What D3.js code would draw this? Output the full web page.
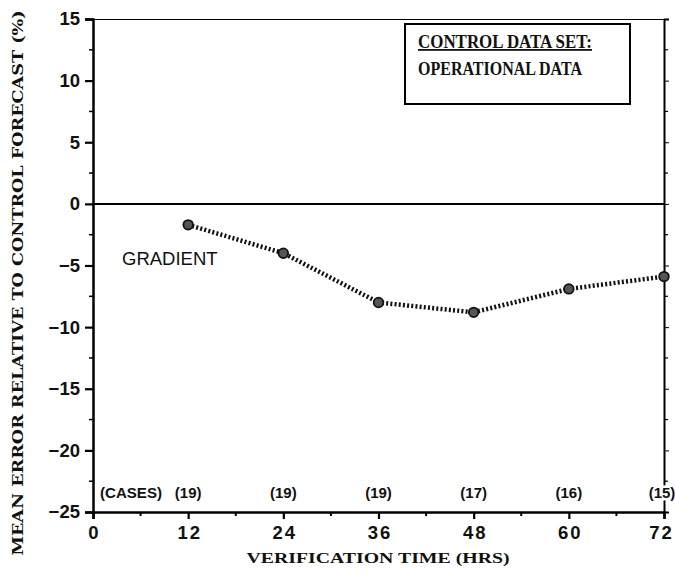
<!DOCTYPE html>
<html><head><meta charset="utf-8">
<script src="https://cdn.jsdelivr.net/npm/d3@7"></script>
<style>body{margin:0;background:#fff}svg{display:block}</style>
</head><body>
<svg id="c" width="675" height="574"></svg>
<script>
const hours = [12, 24, 36, 48, 60, 72];
const gradientError = [-1.7, -4.0, -8.0, -8.8, -6.9, -5.9];
const cases = ["(19)", "(19)", "(19)", "(17)", "(16)", "(15)"];
const xTicks = [0, 12, 24, 36, 48, 60, 72];
const yTicks = [15, 10, 5, 0, -5, -10, -15, -20, -25];

const svg = d3.select("#c");
const L = 93, R = 664, T = 19, B = 512;
const x = d3.scaleLinear().domain([0, 72]).range([L, R]);
const y = d3.scaleLinear().domain([-25, 15]).range([B, T]);
const sans = "'Liberation Sans', Arial, sans-serif";
const serif = "'Liberation Serif', 'Times New Roman', serif";

// bottom axis
const gx = svg.append("g").attr("transform", `translate(0,${B})`)
  .call(d3.axisBottom(x).tickValues(xTicks).tickSize(7).tickPadding(7).tickFormat(d3.format("d")));
gx.append("g").selectAll("line").data(d3.range(6, 72, 12)).join("line")
  .attr("x1", d => x(d)).attr("x2", d => x(d)).attr("y1", 0).attr("y2", 4)
  .attr("stroke", "#000").attr("stroke-width", 2);
// left axis
const gy = svg.append("g").attr("transform", `translate(${L},0)`)
  .call(d3.axisLeft(y).tickValues(yTicks).tickSize(8).tickPadding(5));
gy.append("g").selectAll("line").data(d3.range(-22.5, 15, 5)).join("line")
  .attr("y1", d => y(d)).attr("y2", d => y(d)).attr("x1", 0).attr("x2", -4)
  .attr("stroke", "#000").attr("stroke-width", 1.5);
// top axis
svg.append("g").attr("transform", `translate(0,${T})`)
  .call(d3.axisTop(x).tickValues([]).tickSizeOuter(0));
// right axis
const gr = svg.append("g").attr("transform", `translate(${R},0)`)
  .call(d3.axisRight(y).tickValues(yTicks).tickSize(5).tickFormat(""));
gr.append("g").selectAll("line").data(d3.range(-22.5, 15, 5)).join("line")
  .attr("y1", d => y(d)).attr("y2", d => y(d)).attr("x1", 0).attr("x2", 4)
  .attr("stroke", "#000").attr("stroke-width", 1.2);

[gx, gy].forEach(g => {
  g.select(".domain").attr("stroke-width", 2.5);
  g.selectAll(".tick line").attr("stroke-width", 2.2);
  g.selectAll(".tick text").attr("font-family", sans).attr("font-size", 18.5)
    .attr("font-weight", "bold").attr("fill", "#111");
});
gx.selectAll(".tick text").attr("letter-spacing", 2)
  .attr("x", d => d === 72 ? -3 : 1);
svg.selectAll(".domain").attr("stroke", "#000");
gr.select(".domain").attr("stroke-width", 2);

// zero line
svg.append("line").attr("x1", L).attr("x2", R).attr("y1", y(0)).attr("y2", y(0))
  .attr("stroke", "#000").attr("stroke-width", 2);

// line
const line = d3.line().x((d, i) => x(hours[i])).y(d => y(d));
svg.append("path").datum(gradientError).attr("d", line)
  .attr("fill", "none").attr("stroke", "#111").attr("stroke-width", 4.5)
  .attr("stroke-dasharray", "2,2.2");
svg.append("g").selectAll("circle").data(gradientError).join("circle")
  .attr("cx", (d, i) => x(hours[i])).attr("cy", d => y(d)).attr("r", 4.8)
  .attr("fill", "#555").attr("stroke", "#111").attr("stroke-width", 1.8);

svg.append("text").attr("x", 122).attr("y", 265).text("GRADIENT")
  .attr("font-family", sans).attr("font-size", 18.5).attr("fill", "#111");

// cases
const cy = 498;
svg.append("text").attr("x", 100).attr("y", cy).text("(CASES)")
  .attr("font-family", sans).attr("font-size", 15).attr("font-weight", "bold").attr("fill", "#111")
  .attr("textLength", 62).attr("lengthAdjust", "spacingAndGlyphs");
svg.append("g").selectAll("text").data(cases).join("text")
  .attr("x", (d, i) => x(hours[i]) - (i === 5 ? 2 : 0)).attr("y", cy)
  .attr("text-anchor", "middle").text(d => d)
  .attr("font-family", sans).attr("font-size", 15).attr("font-weight", "bold").attr("fill", "#111")
  .attr("stroke", (d, i) => i === 5 ? "#fff" : "none").attr("stroke-width", 5).attr("paint-order", "stroke");

// legend
svg.append("rect").attr("x", 405).attr("y", 24).attr("width", 225).attr("height", 80)
  .attr("fill", "#fff").attr("stroke", "#000").attr("stroke-width", 2);
svg.append("text").attr("x", 418).attr("y", 48).text("CONTROL DATA SET:")
  .attr("font-family", serif).attr("font-size", 18).attr("font-weight", "bold")
  .attr("textLength", 174).attr("lengthAdjust", "spacingAndGlyphs")
  .attr("text-decoration", "underline").attr("fill", "#111");
svg.append("text").attr("x", 418).attr("y", 75).text("OPERATIONAL DATA")
  .attr("font-family", serif).attr("font-size", 18).attr("font-weight", "bold")
  .attr("textLength", 164).attr("lengthAdjust", "spacingAndGlyphs").attr("fill", "#111");

// axis titles
svg.append("text").attr("x", 378).attr("y", 563).attr("text-anchor", "middle")
  .text("VERIFICATION TIME (HRS)")
  .attr("font-family", serif).attr("font-size", 15).attr("font-weight", "bold")
  .attr("textLength", 263).attr("lengthAdjust", "spacingAndGlyphs").attr("fill", "#111");
svg.append("text").attr("transform", "translate(23,283) rotate(-90)").attr("text-anchor", "middle")
  .text("MEAN ERROR RELATIVE TO CONTROL FORECAST (%)")
  .attr("font-family", "'DejaVu Serif', serif").attr("font-size", 15).attr("font-weight", "bold")
  .attr("textLength", 545).attr("lengthAdjust", "spacingAndGlyphs").attr("fill", "#111");
</script>
</body></html>
